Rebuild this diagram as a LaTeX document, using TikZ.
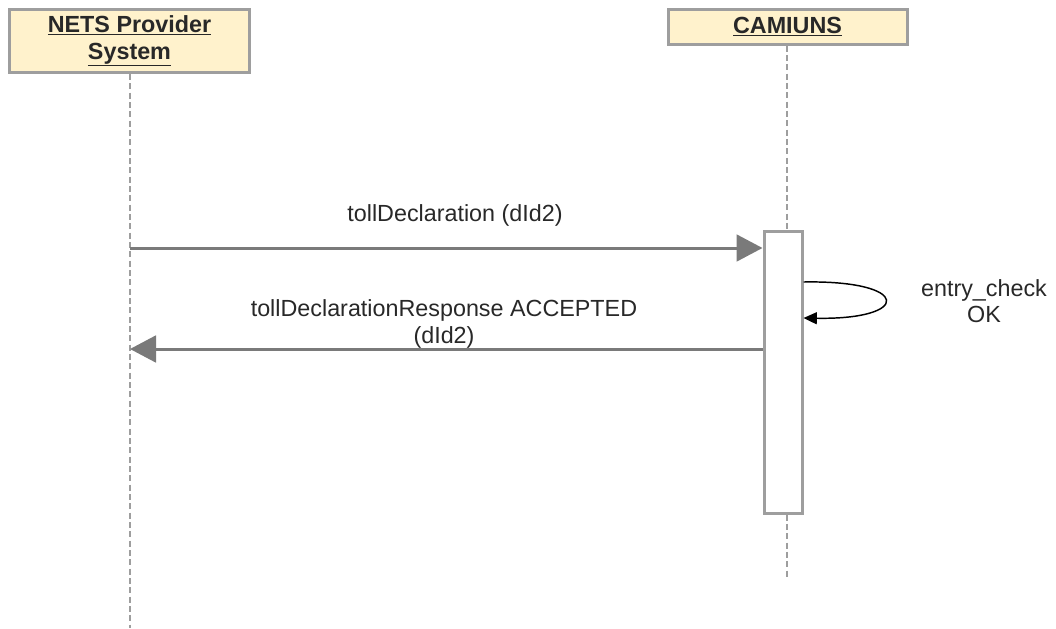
\documentclass[tikz,border=0pt]{standalone}
\usepackage{fontspec}
\setmainfont{Liberation Sans}
\usetikzlibrary{arrows.meta}

\definecolor{actorfill}{RGB}{255,242,204}
\definecolor{actorline}{RGB}{158,158,158}
\definecolor{msgline}{RGB}{122,122,122}
\definecolor{labeltext}{RGB}{40,40,40}

\tikzset{every picture/.style={line width=0.75pt}}

\begin{document}
\begin{tikzpicture}[x=0.75pt,y=0.75pt,yscale=-1,xscale=1,
	actor/.style={draw=actorline,fill=actorfill,line width=2.25pt,inner sep=0pt,align=center,text=labeltext,font=\fontsize{17.5}{20}\selectfont\bfseries},
	activation/.style={draw=actorline,fill=white,line width=2.25pt,inner sep=0pt,minimum width=28.5pt,minimum height=211.5pt},
	lifeline/.style={draw=actorline,line width=1.5pt,dash pattern=on 4.5pt off 2.5pt},
	msg/.style={draw=msgline,line width=2.25pt,-{Triangle[length=19.5pt,width=20pt]}},
	selfmsg/.style={draw=black,line width=1.1pt,-{Triangle[length=10pt,width=9pt]}},
	msglabel/.style={inner sep=0.75pt,align=center,text=labeltext,font=\fontsize{17.5}{20}\selectfont}]
	\useasboundingbox (0,0) rectangle (1056,628);

	%Shape: Actor boxes
	\node [actor,minimum width=180pt,minimum height=47.25pt] (nets) at (129.5,41) {\underline{NETS Provider}\\\underline{System}};
	\node [actor,minimum width=179.25pt,minimum height=26.25pt] (camiuns) at (787.5,26.5) {\underline{CAMIUNS}};
	%Shape: Activation bar
	\node [activation] (act) at (783,372) {};

	%Lifelines
	\coordinate (netsEnd) at (130,628);
	\coordinate (camEnd) at (787,578);
	\draw [lifeline] (nets.south -| netsEnd) -- (netsEnd);
	\draw [lifeline] (camiuns.south -| camEnd) -- (act.north -| camEnd);
	\draw [lifeline] (act.south -| camEnd) -- (camEnd);

	%Messages
	\coordinate (req) at (130,248);
	\coordinate (resp) at (130,349);
	\coordinate (chkOut) at (0,282);
	\coordinate (chkIn) at (0,318);
	\draw [msg] (req) -- (act.west |- req);
	\draw [msg] (act.west |- resp) -- (resp);
	\draw [selfmsg] (act.east |- chkOut) .. controls (912,280) and (912,320) .. (act.east |- chkIn);

	% Text Node
	\node [msglabel] (reqLabel) at (455,215) {tollDeclaration (dId2)};
	% Text Node
	\node [msglabel] (respLabel) at (444,324) {tollDeclarationResponse ACCEPTED\\(dId2)};
	% Text Node
	\node [msglabel] (chkLabel) at (984,301) {entry\_check\\OK};
\end{tikzpicture}
\end{document}
